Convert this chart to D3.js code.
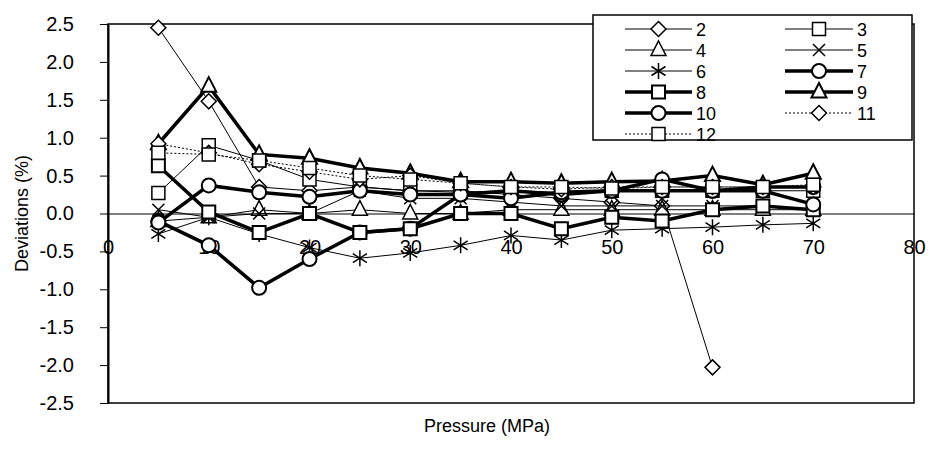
<!DOCTYPE html>
<html>
<head>
<meta charset="utf-8">
<script src="https://cdn.jsdelivr.net/npm/d3@7"></script>
<style>
  body { margin: 0; background: #fff; }
  text { font-family: "Liberation Sans", Arial, sans-serif; fill: #000; }
</style>
</head>
<body>
<svg id="chart" width="932" height="466"></svg>
<script>
// Pressure points (MPa) and deviation (%) of each data set
const pressure = [5, 10, 15, 20, 25, 30, 35, 40, 45, 50, 55, 60, 65, 70];
const dev2  = [2.45, 1.48, 0.35, 0.30, 0.35, 0.30, 0.30, 0.25, 0.20, 0.15, 0.10, -2.03];
const dev3  = [0.27, 0.90, 0.70, 0.45, 0.35, 0.30, 0.28, 0.30, 0.28, 0.30, 0.30, 0.30, 0.30, 0.30];
const dev4  = [-0.10, -0.05, 0.05, 0.00, 0.05, 0.00, 0.00, 0.05, 0.05, 0.05, 0.05, 0.05, 0.05, 0.05];
const dev5  = [0.05, -0.05, 0.00, 0.00, 0.30, 0.20, 0.20, 0.15, 0.10, 0.10, 0.10, 0.10, 0.10, 0.05];
const dev6  = [-0.27, -0.05, -0.27, -0.45, -0.59, -0.52, -0.42, -0.29, -0.35, -0.22, -0.20, -0.18, -0.15, -0.13];
const dev7  = [-0.10, -0.42, -0.98, -0.60, -0.25, -0.20, 0.25, 0.30, 0.25, 0.30, 0.30, 0.30, 0.35, 0.35];
const dev8  = [0.63, 0.02, -0.25, 0.00, -0.25, -0.20, 0.00, 0.00, -0.20, -0.05, -0.10, 0.05, 0.10, 0.05];
const dev9  = [0.92, 1.68, 0.78, 0.73, 0.60, 0.53, 0.42, 0.42, 0.40, 0.42, 0.43, 0.50, 0.38, 0.53];
const dev10 = [-0.12, 0.37, 0.28, 0.22, 0.30, 0.25, 0.25, 0.20, 0.28, 0.30, 0.45, 0.30, 0.30, 0.12];
const dev11 = [0.92, 0.80, 0.65, 0.55, 0.45, 0.50, 0.40, 0.35, 0.32, 0.35, 0.35, 0.35, 0.35, 0.35];
const dev12 = [0.80, 0.78, 0.70, 0.60, 0.50, 0.45, 0.40, 0.35, 0.35, 0.33, 0.35, 0.35, 0.35, 0.38];

const seriesNames = ["2", "3", "4", "5", "6", "7", "8", "9", "10", "11", "12"];
const seriesValues = [dev2, dev3, dev4, dev5, dev6, dev7, dev8, dev9, dev10, dev11, dev12];

const xTicks = [0, 10, 20, 30, 40, 50, 60, 70, 80];
const yTicks = [2.5, 2.0, 1.5, 1.0, 0.5, 0.0, -0.5, -1.0, -1.5, -2.0, -2.5];

const xTitle = "Pressure (MPa)";
const yTitle = "Deviations (%)";

// Line and marker style of each data set
const styles = {
  "2":  { marker: "diamond",  width: 1,   dash: null },
  "3":  { marker: "square",   width: 1,   dash: null },
  "4":  { marker: "triangle", width: 1,   dash: null },
  "5":  { marker: "times",    width: 1,   dash: null },
  "6":  { marker: "asterisk", width: 1,   dash: null },
  "7":  { marker: "circle",   width: 3.5, dash: null },
  "8":  { marker: "square",   width: 3.5, dash: null },
  "9":  { marker: "triangle", width: 3.5, dash: null },
  "10": { marker: "circle",   width: 3.5, dash: null },
  "11": { marker: "diamond",  width: 1,   dash: "2,2" },
  "12": { marker: "square",   width: 1,   dash: "2,2" }
};

function markerPath(kind) {
  switch (kind) {
    case "diamond":  return "M0,-7.5L7.5,0L0,7.5L-7.5,0Z";
    case "square":   return "M-6.5,-6.5H6.5V6.5H-6.5Z";
    case "triangle": return "M0,-9L7.5,5.5H-7.5Z";
    case "circle":   return "M7,0A7,7 0 1,1 -7,0A7,7 0 1,1 7,0Z";
    case "times":    return "M-6,-6L6,6M6,-6L-6,6";
    case "asterisk": return "M0,-8V8M-7,-4.5L7,4.5M7,-4.5L-7,4.5";
  }
}
const openMarker = k => k === "times" || k === "asterisk";

const svg = d3.select("#chart");
const x = d3.scaleLinear().domain([0, 80]).range([108, 914]);
const y = d3.scaleLinear().domain([-2.5, 2.5]).range([403, 24]);

// Plot frame
svg.append("rect")
  .attr("x", x(0)).attr("y", y(2.5))
  .attr("width", x(80) - x(0)).attr("height", y(-2.5) - y(2.5))
  .attr("fill", "none").attr("stroke", "#000").attr("stroke-width", 1.5);

// Y axis
const yAxis = svg.append("g")
  .attr("transform", `translate(${x(0)},0)`)
  .call(d3.axisLeft(y).tickValues(yTicks).tickFormat(d => d.toFixed(1))
    .tickSizeInner(8).tickSizeOuter(0).tickPadding(26));
yAxis.select(".domain").attr("stroke-width", 2);
yAxis.selectAll("text").attr("font-size", 20).style("font-family", "'Liberation Sans', Arial, sans-serif");

// X axis on the zero line
const xAxis = svg.append("g")
  .attr("transform", `translate(0,${y(0)})`)
  .call(d3.axisBottom(x).tickValues(xTicks).tickFormat(d3.format("d"))
    .tickSizeInner(0).tickSizeOuter(0).tickPadding(26));
xAxis.select(".domain").attr("stroke-width", 1);
xAxis.selectAll("text").attr("font-size", 20).style("font-family", "'Liberation Sans', Arial, sans-serif");

// Axis titles
svg.append("text")
  .attr("x", (x(0) + x(80)) / 2 - 24).attr("y", 432)
  .attr("text-anchor", "middle").attr("font-size", 18).text(xTitle);
svg.append("text")
  .attr("transform", `translate(28,${(y(2.5) + y(-2.5)) / 2}) rotate(-90)`)
  .attr("text-anchor", "middle").attr("font-size", 18).text(yTitle);

// Data lines and markers
const line = d3.line().x(d => x(d[0])).y(d => y(d[1]));
seriesNames.forEach((name, i) => {
  const st = styles[name];
  const pts = seriesValues[i].map((v, j) => [pressure[j], v]);
  const g = svg.append("g").attr("class", "series s" + name);
  g.append("path").datum(pts)
    .attr("d", line).attr("fill", "none").attr("stroke", "#000")
    .attr("stroke-width", st.width)
    .attr("stroke-dasharray", st.dash);
  g.selectAll("path.mk").data(pts).join("path")
    .attr("class", "mk")
    .attr("transform", d => `translate(${x(d[0])},${y(d[1])})`)
    .attr("d", markerPath(st.marker))
    .attr("fill", openMarker(st.marker) ? "none" : "#fff")
    .attr("stroke", "#000")
    .attr("stroke-width", st.width > 1 ? 2 : 1.5);
});

// Legend
const legend = svg.append("g");
legend.append("rect")
  .attr("x", 593).attr("y", 15).attr("width", 319).attr("height", 125)
  .attr("fill", "#fff").attr("stroke", "#000").attr("stroke-width", 1.5);
const rowY = [29, 50, 71, 92, 113, 134];
seriesNames.forEach((name, i) => {
  const col = i % 2, row = Math.floor(i / 2);
  const st = styles[name];
  const x0 = col === 0 ? 625 : 785, x1 = col === 0 ? 692 : 853;
  const cy = rowY[row];
  const g = legend.append("g");
  g.append("line").attr("x1", x0).attr("x2", x1).attr("y1", cy).attr("y2", cy)
    .attr("stroke", "#000").attr("stroke-width", st.width)
    .attr("stroke-dasharray", st.dash);
  g.append("path").attr("transform", `translate(${(x0 + x1) / 2},${cy})`)
    .attr("d", markerPath(st.marker))
    .attr("fill", openMarker(st.marker) ? "none" : "#fff")
    .attr("stroke", "#000").attr("stroke-width", st.width > 1 ? 2 : 1.5);
  g.append("text").attr("x", x1 + 4).attr("y", cy + 6.5)
    .attr("font-size", 18).text(name);
});
</script>
</body>
</html>
